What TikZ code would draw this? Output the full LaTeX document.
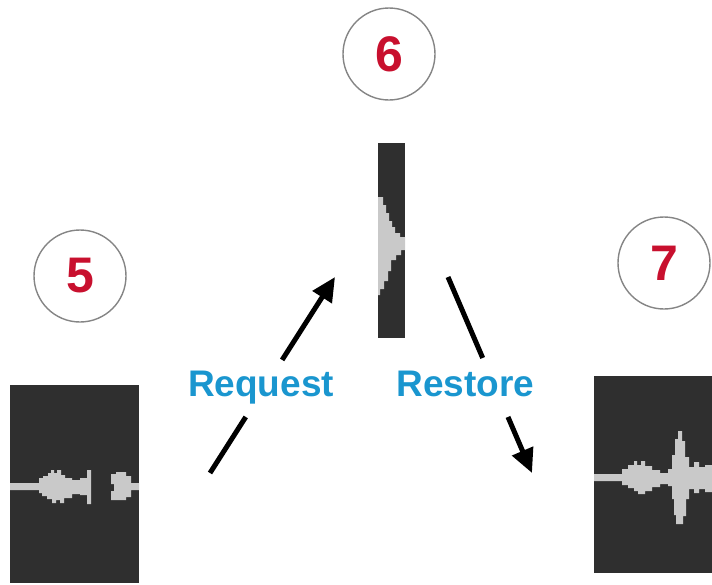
\documentclass[tikz,border=0pt]{standalone}
\usepackage{fontspec}
\setmainfont{Liberation Sans}
\usetikzlibrary{arrows.meta,calc}
\definecolor{numred}{HTML}{C8102E}
\definecolor{lblblue}{HTML}{1A96CF}
\definecolor{boxdark}{HTML}{2F2F2F}
\definecolor{wavegray}{HTML}{C9C9C9}
\definecolor{ringgray}{HTML}{858585}
\tikzset{
  stepnum/.style={circle,draw=ringgray,line width=1.4pt,minimum size=92pt,inner sep=0pt,
    text=numred,font=\fontsize{50}{54}\selectfont\bfseries},
  wavebox/.style={fill=boxdark,draw=none,inner sep=0pt},
  wave/.style={fill=wavegray,draw=none},
  flow/.style={line width=5pt,draw=black},
  flowhead/.style={flow,-{Triangle[length=24pt,width=22pt]}},
  flowlabel/.style={text=lblblue,font=\fontsize{37}{40}\selectfont\bfseries,inner sep=0pt}
}
\begin{document}
\begin{tikzpicture}[x=1pt,y=-1pt]
\useasboundingbox (0,0) rectangle (712,584);
% numbered circles
\node[stepnum] (n5) at (80,276) {5};
\node[stepnum] (n6) at (389,54) {6};
\node[stepnum] (n7) at (664,263) {7};
% boxes
\node[wavebox,minimum width=129pt,minimum height=198pt] (b5) at (74.5,484) {};
\node[wavebox,minimum width=27pt,minimum height=195pt] (b6) at (391.5,240.5) {};
\node[wavebox,minimum width=118pt,minimum height=197pt] (b7) at (653,474.5) {};
% waveform 5
\fill[wave] (10,483) -- (39,483) -- (39,478) -- (43,478) -- (43,476) -- (48,476) -- (48,473) -- (51,473) -- (51,470) -- (54,470) -- (54,473) -- (57,473) -- (57,470) -- (61,470) -- (61,475) -- (65,475) -- (65,478) -- (72,478) -- (72,480) -- (80,480) -- (80,478) -- (87,478) -- (87,470) -- (91,470) -- (91,504) -- (87,504) -- (87,495) -- (80,495) -- (80,494) -- (72,494) -- (72,498) -- (64,498) -- (64,503) -- (60,503) -- (60,500) -- (56,500) -- (56,503) -- (52,503) -- (52,499) -- (47,499) -- (47,496) -- (42,496) -- (42,493) -- (39,493) -- (39,490) -- (10,490) -- cycle;
\fill[wave] (111,474) -- (116,474) -- (116,472) -- (126,472) -- (126,476) -- (131,476) -- (131,483) -- (139,483) -- (139,490) -- (131,490) -- (131,497) -- (126,497) -- (126,500) -- (111,500) -- (111,491) -- (114,491) -- (114,484) -- (111,484) -- cycle;
% waveform 6
\fill[wave] (378,197) -- (383,197) -- (383,205) -- (386,205) -- (386,213) -- (389,213) -- (389,221) -- (392,221) -- (392,227) -- (395,227) -- (395,233) -- (400,233) -- (400,237) -- (405,237) -- (405,250) -- (401,250) -- (401,255) -- (396,255) -- (396,260) -- (391,260) -- (391,271) -- (388,271) -- (388,281) -- (384,281) -- (384,289) -- (380,289) -- (380,295) -- (378,295) -- cycle;
% waveform 7
\fill[wave] (594,474) -- (622,474) -- (622,469) -- (628,469) -- (628,465) -- (634,465) -- (634,461) -- (637,461) -- (637,465) -- (641,465) -- (641,461) -- (645,461) -- (645,466) -- (652,466) -- (652,470) -- (660,470) -- (660,473) -- (668,473) -- (668,469) -- (672,469) -- (672,455) -- (675,455) -- (675,439) -- (678,439) -- (678,431) -- (682,431) -- (682,441) -- (685,441) -- (685,457) -- (689,457) -- (689,467) -- (694,467) -- (694,462) -- (699,462) -- (699,467) -- (705,467) -- (705,465) -- (712,465) -- (712,492) -- (705,492) -- (705,489) -- (699,489) -- (699,493) -- (694,493) -- (694,489) -- (689,489) -- (689,499) -- (686,499) -- (686,516) -- (683,516) -- (683,524) -- (676,524) -- (676,515) -- (674,515) -- (674,499) -- (672,499) -- (672,486) -- (668,486) -- (668,484) -- (660,484) -- (660,487) -- (652,487) -- (652,491) -- (645,491) -- (645,494) -- (638,494) -- (638,491) -- (634,491) -- (634,488) -- (628,488) -- (628,485) -- (622,485) -- (622,481) -- (594,481) -- cycle;
% arrows
\coordinate (reqS) at (210,473);
\coordinate (reqT) at (335,277);
\coordinate (resS) at (448,277);
\coordinate (resT) at (532,473);
\draw[flow] (reqS) -- ($(reqS)!0.286!(reqT)$);
\draw[flowhead] ($(reqS)!0.577!(reqT)$) -- (reqT);
\draw[flow] (resS) -- ($(resS)!0.413!(resT)$);
\draw[flowhead] ($(resS)!0.714!(resT)$) -- (resT);
\node[flowlabel,anchor=base] (req) at (261,396) {Request};
\node[flowlabel,anchor=base] (res) at (465.5,396) {Restore};
\end{tikzpicture}
\end{document}
